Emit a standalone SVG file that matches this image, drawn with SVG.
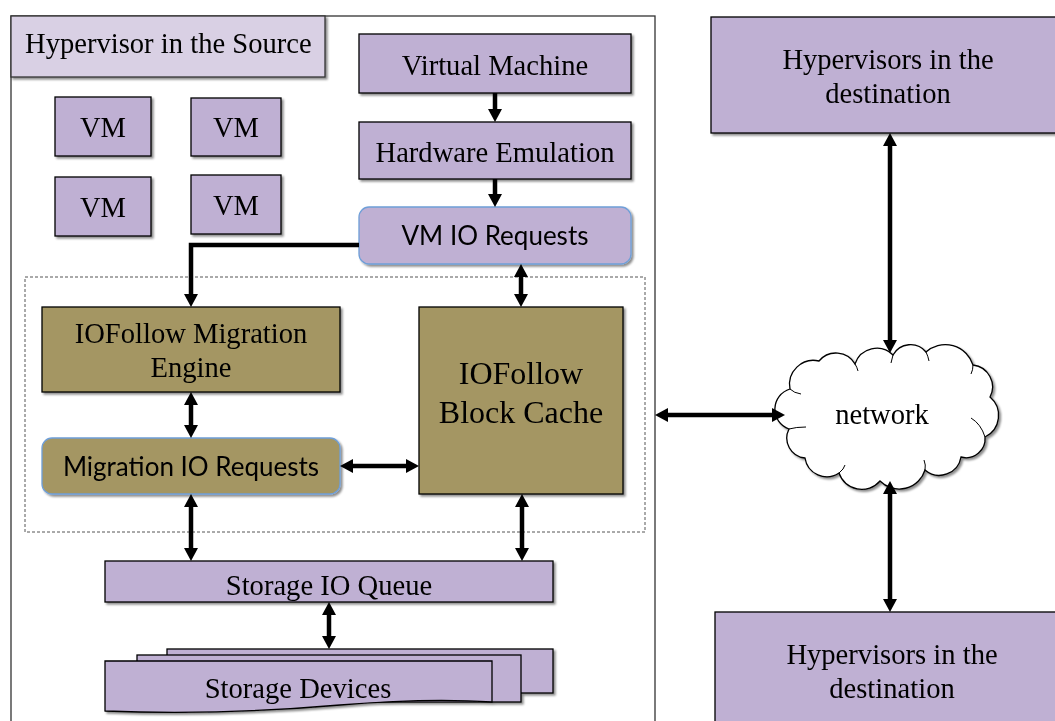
<svg xmlns="http://www.w3.org/2000/svg" width="1055" height="721" viewBox="0 0 1055 721">
  <style>
    .serif { font-family: "Liberation Serif", "Times New Roman", serif; fill: #000; }
    .sans { font-family: Lato, "Liberation Sans", sans-serif; fill: #000; }
    .purple { fill: #bfb0d3; stroke: #000; stroke-width: 1.3; }
    .olive { fill: #a49664; stroke: #000; stroke-width: 1.3; }
    .roundp { fill: #bfb0d3; stroke: #6f9fd8; stroke-width: 1.3; }
    .roundo { fill: #a49664; stroke: #6f9fd8; stroke-width: 1.3; }
    .conn { fill: none; stroke: #000; stroke-width: 4.5; }
  </style>
  <defs>
    <filter id="shadow" x="-10%" y="-10%" width="130%" height="130%">
      <feDropShadow dx="2" dy="2" stdDeviation="1.2" flood-color="#000" flood-opacity="0.45"/>
    </filter>
    <marker id="head" viewBox="0 -7 13 14" refX="1" refY="0" markerWidth="13" markerHeight="14" markerUnits="userSpaceOnUse" orient="auto-start-reverse">
      <path d="M0,-7 L13,0 L0,7 Z" fill="#000"/>
    </marker>
  </defs>

  <rect width="1055" height="721" fill="#fff"/>

  <!-- source hypervisor frame -->
  <g id="source-frame">
    <rect x="11" y="16" width="644" height="720" fill="#fff" stroke="#333" stroke-width="1.3"/>
  </g>
  <g id="source-title" filter="url(#shadow)">
    <rect x="11" y="16" width="314" height="61" fill="#d9d0e4" stroke="#333" stroke-width="1.3"/>
    <text class="serif" x="25" y="53" font-size="28.6">Hypervisor in the Source</text>
  </g>

  <!-- guest VMs -->
  <g id="vm1" filter="url(#shadow)">
    <rect class="purple" x="55" y="97" width="96" height="59"/>
    <text class="serif" x="103" y="137" font-size="28.6" text-anchor="middle">VM</text>
  </g>
  <g id="vm2" filter="url(#shadow)">
    <rect class="purple" x="191" y="98" width="90" height="58"/>
    <text class="serif" x="236" y="137" font-size="28.6" text-anchor="middle">VM</text>
  </g>
  <g id="vm3" filter="url(#shadow)">
    <rect class="purple" x="55" y="177" width="96" height="59"/>
    <text class="serif" x="103" y="217" font-size="28.6" text-anchor="middle">VM</text>
  </g>
  <g id="vm4" filter="url(#shadow)">
    <rect class="purple" x="191" y="175" width="90" height="59"/>
    <text class="serif" x="236" y="215" font-size="28.6" text-anchor="middle">VM</text>
  </g>

  <!-- VM IO path -->
  <g id="virtual-machine" filter="url(#shadow)">
    <rect class="purple" x="359" y="34" width="272" height="59"/>
    <text class="serif" x="495" y="75" font-size="28.6" text-anchor="middle">Virtual Machine</text>
  </g>
  <g id="hardware-emulation" filter="url(#shadow)">
    <rect class="purple" x="359" y="122" width="272" height="57"/>
    <text class="serif" x="495" y="162" font-size="28.6" text-anchor="middle">Hardware Emulation</text>
  </g>
  <g id="vm-io-requests" filter="url(#shadow)">
    <rect class="roundp" x="359" y="207" width="272" height="57" rx="10" ry="10"/>
    <text class="sans" x="495" y="245" font-size="26" text-anchor="middle">VM IO Requests</text>
  </g>

  <!-- IOFollow module boundary -->
  <g id="iofollow-boundary">
    <rect x="25" y="277" width="620" height="255" fill="none" stroke="#555" stroke-width="1" stroke-dasharray="3,2"/>
  </g>
  <g id="migration-engine" filter="url(#shadow)">
    <rect class="olive" x="42" y="307" width="298" height="85"/>
    <text class="serif" x="191" y="343" font-size="28.6" text-anchor="middle">IOFollow Migration</text>
    <text class="serif" x="191" y="377" font-size="28.6" text-anchor="middle">Engine</text>
  </g>
  <g id="migration-io-requests" filter="url(#shadow)">
    <rect class="roundo" x="42" y="438" width="298" height="56" rx="10" ry="10"/>
    <text class="sans" x="191" y="476" font-size="26" text-anchor="middle">Migration IO Requests</text>
  </g>
  <g id="block-cache" filter="url(#shadow)">
    <rect class="olive" x="419" y="307" width="204" height="187"/>
    <text class="serif" x="521" y="384" font-size="32" text-anchor="middle">IOFollow</text>
    <text class="serif" x="521" y="423" font-size="32" text-anchor="middle">Block Cache</text>
  </g>

  <!-- storage -->
  <g id="storage-io-queue" filter="url(#shadow)">
    <rect class="purple" x="105" y="561" width="448" height="41"/>
    <text class="serif" x="329" y="595" font-size="28.6" text-anchor="middle">Storage IO Queue</text>
  </g>
  <g id="storage-devices" filter="url(#shadow)">
    <rect class="purple" x="167" y="649" width="386" height="44"/>
    <rect class="purple" x="137" y="655" width="384" height="47"/>
    <path class="purple" d="M105,661 H492 V702 C450,699 400,700 340,705 C260,712 180,714 105,711 Z"/>
    <text class="serif" x="298" y="698" font-size="28.6" text-anchor="middle">Storage Devices</text>
  </g>

  <!-- destination hypervisors -->
  <g id="destination-top" filter="url(#shadow)">
    <rect class="purple" x="711" y="17" width="352" height="116"/>
    <text class="serif" x="888" y="69" font-size="28.6" text-anchor="middle">Hypervisors in the</text>
    <text class="serif" x="888" y="103" font-size="28.6" text-anchor="middle">destination</text>
  </g>
  <g id="destination-bottom" filter="url(#shadow)">
    <rect class="purple" x="715" y="612" width="352" height="120"/>
    <text class="serif" x="892" y="664" font-size="28.6" text-anchor="middle">Hypervisors in the</text>
    <text class="serif" x="892" y="698" font-size="28.6" text-anchor="middle">destination</text>
  </g>

  <!-- network cloud -->
  <g id="network" filter="url(#shadow)">
    <path fill="#fff" stroke="#000" stroke-width="1.3" d="M790,389 A24,24 0 0 1 819,361 A22,22 0 0 1 855,364 A23,23 0 0 1 893,355 A20,20 0 0 1 926,352 A29,29 0 0 1 973,365 A22,22 0 0 1 990,397 A24,24 0 0 1 985,437 A19,19 0 0 1 961,457 A22,22 0 0 1 925,470 A27,27 0 0 1 880,481 A24,24 0 0 1 839,473 A22,22 0 0 1 805,458 A20,20 0 0 1 789,429 A21,21 0 0 1 790,389 Z"/>
    <g fill="none" stroke="#000" stroke-width="1">
      <path d="M790,389 Q794,393 801,394"/>
      <path d="M855,364 Q857,367 858,371"/>
      <path d="M893,355 Q892,359 891,363"/>
      <path d="M926,352 Q928,356 929,361"/>
      <path d="M973,365 Q973,370 971,374"/>
      <path d="M985,437 Q981,424 971,418"/>
      <path d="M925,470 Q926,465 924,460"/>
      <path d="M839,473 Q844,469 845,465"/>
      <path d="M789,429 Q796,427 806,427"/>
    </g>
    <text class="serif" x="882" y="424" font-size="28.6" text-anchor="middle">network</text>
  </g>

  <!-- connectors -->
  <g id="connectors" class="conn">
    <line x1="495" y1="93" x2="495" y2="110" marker-end="url(#head)"/>
    <line x1="495" y1="179" x2="495" y2="195" marker-end="url(#head)"/>
    <polyline points="359,245 191,245 191,295" marker-end="url(#head)"/>
    <line x1="521" y1="276" x2="521" y2="295" marker-start="url(#head)" marker-end="url(#head)"/>
    <line x1="191" y1="404" x2="191" y2="426" marker-start="url(#head)" marker-end="url(#head)"/>
    <line x1="352" y1="466" x2="407" y2="466" marker-start="url(#head)" marker-end="url(#head)"/>
    <line x1="191" y1="506" x2="191" y2="549" marker-start="url(#head)" marker-end="url(#head)"/>
    <line x1="522" y1="506" x2="522" y2="549" marker-start="url(#head)" marker-end="url(#head)"/>
    <line x1="329" y1="614" x2="329" y2="637" marker-start="url(#head)" marker-end="url(#head)"/>
    <line x1="667" y1="415" x2="773" y2="415" marker-start="url(#head)" marker-end="url(#head)"/>
    <line x1="890" y1="145" x2="890" y2="341" marker-start="url(#head)" marker-end="url(#head)"/>
    <line x1="890" y1="493" x2="890" y2="600" marker-start="url(#head)" marker-end="url(#head)"/>
  </g>
</svg>
